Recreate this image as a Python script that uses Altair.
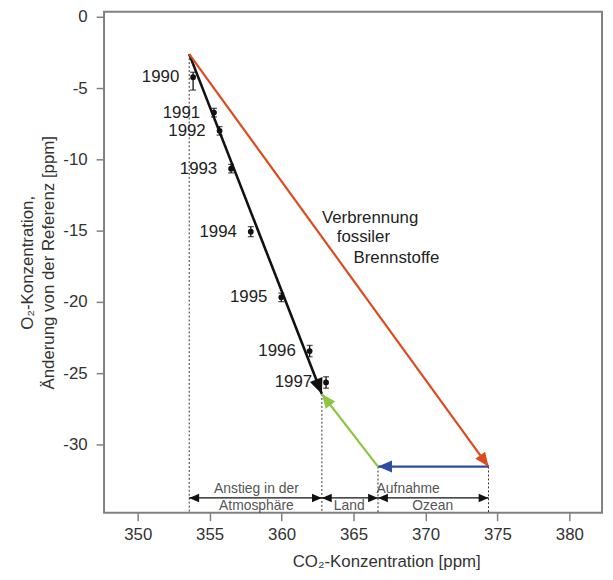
import math
import altair as alt
import pandas as pd

# ---------------- data ----------------
years = ["1990", "1991", "1992", "1993", "1994", "1995", "1996", "1997"]
co2 = [353.85, 355.30, 355.69, 356.49, 357.86, 359.98, 361.95, 363.09]
o2 = [-4.24, -6.72, -8.00, -10.65, -15.07, -19.68, -23.45, -25.65]
err_low = [0.9, 0.3, 0.3, 0.3, 0.35, 0.3, 0.4, 0.4]
err_high = [0.35, 0.3, 0.3, 0.3, 0.35, 0.3, 0.4, 0.4]

# budget vectors (start -> end)
arrow_names = ["Atmosphäre", "Verbrennung", "Ozean", "Land"]
arrow_x1 = [353.58, 353.58, 374.38, 366.70]
arrow_y1 = [-2.62, -2.62, -31.55, -31.55]
arrow_x2 = [362.80, 374.38, 366.70, 362.80]
arrow_y2 = [-26.46, -31.55, -31.55, -26.46]
arrow_colors = ["#111111", "#dd4a1c", "#2b4ea2", "#8dc63f"]

# dotted drop lines
drop_x = [353.58, 362.80, 366.70, 374.38]
drop_y = [-2.62, -26.46, -31.55, -31.55]

# span arrows at the bottom
span_x1 = [353.58, 362.80, 366.70]
span_x2 = [362.80, 366.70, 374.38]
span_y = -33.75
span_texts = ["Anstieg in der", "Atmosphäre", "Land", "Aufnahme", "Ozean"]
span_text_x = [358.25, 358.25, 364.70, 368.80, 370.50]
span_text_y = [-33.10, -34.30, -34.30, -33.10, -34.30]

fossil_texts = ["Verbrennung", "fossiler", "Brennstoffe"]
fossil_text_x = [362.80, 363.83, 365.00]
fossil_text_y = [-14.10, -15.45, -16.90]

x_ticks = [350, 355, 360, 365, 370, 375, 380]
y_ticks = [0, -5, -10, -15, -20, -25, -30]
x_domain = [347.66, 382.27]
y_domain = [-34.79, 0.35]

W, H = 503, 506
FONT = "Liberation Sans"
kx = W / (x_domain[1] - x_domain[0])
ky = H / (y_domain[1] - y_domain[0])


def head_angle(x1, y1, x2, y2):
    dx = (x2 - x1) * kx
    dy = -(y2 - y1) * ky  # screen coordinates, down positive
    return math.degrees(math.atan2(dx, -dy)) % 360


xs = alt.Scale(domain=x_domain, nice=False, zero=False)
ys = alt.Scale(domain=y_domain, nice=False, zero=False)

pts = pd.DataFrame({"year": years, "co2": co2, "o2": o2,
                    "lo": [v - e for v, e in zip(o2, err_low)],
                    "hi": [v + e for v, e in zip(o2, err_high)]})

arrows = pd.DataFrame({"name": arrow_names, "x1": arrow_x1, "y1": arrow_y1,
                       "x2": arrow_x2, "y2": arrow_y2, "color": arrow_colors,
                       "w": [2.6, 2.2, 2.2, 2.2]})
heads = pd.DataFrame({
    "x": arrow_x2, "y": arrow_y2, "color": arrow_colors,
    "size": [1000, 800, 800, 800],
    "angle": [head_angle(a, b, c, d) for a, b, c, d in zip(arrow_x1, arrow_y1, arrow_x2, arrow_y2)],
})

drops = pd.DataFrame({"x": drop_x, "y": drop_y, "y2": [y_domain[0]] * len(drop_x)})

spans = pd.DataFrame({"x1": span_x1, "x2": span_x2, "y": [span_y] * len(span_x1)})
span_heads = pd.DataFrame({
    "x": span_x1 + span_x2,
    "y": [span_y] * (2 * len(span_x1)),
    "angle": [270] * len(span_x1) + [90] * len(span_x2),
})
span_lab = pd.DataFrame({"t": span_texts, "x": span_text_x, "y": span_text_y})
fossil_lab = pd.DataFrame({"t": fossil_texts, "x": fossil_text_x, "y": fossil_text_y})

HEAD = "M0,0 L0.43,1 L-0.43,1 Z"

# base layer carrying axes
base_axes = alt.Chart(drops).mark_rule(strokeDash=[2, 2], color="#333333", strokeWidth=1).encode(
    x=alt.X("x:Q", scale=xs, axis=alt.Axis(
        values=x_ticks, title="CO₂-Konzentration [ppm]",
        titleX=285, titleY=49, titleBaseline="middle", titleAlign="center")),
    y=alt.Y("y:Q", scale=ys, axis=alt.Axis(
        values=y_ticks, title=["O₂-Konzentration,", "Änderung von der Referenz [ppm]"],
        labelExpr="replace(datum.label, '\u2212', '-')",
        titleX=-77, titleY=253, titleAngle=270, titleBaseline="middle", titleAlign="center",
        titleLineHeight=21)),
    y2="y2:Q",
)

arrow_lines = alt.Chart(arrows).mark_rule().encode(
    x="x1:Q", y="y1:Q", x2="x2:Q", y2="y2:Q",
    color=alt.Color("color:N", scale=None),
    strokeWidth=alt.StrokeWidth("w:Q", scale=None),
)
arrow_heads = alt.Chart(heads).mark_point(shape=HEAD, filled=True, opacity=1, strokeWidth=0).encode(
    x="x:Q", y="y:Q",
    angle=alt.Angle("angle:Q", scale=None),
    size=alt.Size("size:Q", scale=None),
    color=alt.Color("color:N", scale=None),
)

span_lines = alt.Chart(spans).mark_rule(color="#111111", strokeWidth=1.3).encode(
    x="x1:Q", x2="x2:Q", y="y:Q",
)
span_head_marks = alt.Chart(span_heads).mark_point(shape=HEAD, filled=True, opacity=1, size=400,
                                                   strokeWidth=0, color="#111111").encode(
    x="x:Q", y="y:Q", angle=alt.Angle("angle:Q", scale=None),
)
span_texts_mark = alt.Chart(span_lab).mark_text(font=FONT, fontSize=14, color="#555555",
                                                 baseline="middle", align="center").encode(
    x="x:Q", y="y:Q", text="t:N",
)
fossil_texts_mark = alt.Chart(fossil_lab).mark_text(font=FONT, fontSize=17, color="#222222",
                                                     baseline="middle", align="left").encode(
    x="x:Q", y="y:Q", text="t:N",
)

err_rules = alt.Chart(pts).mark_rule(color="#111111", strokeWidth=1.3).encode(
    x="co2:Q", y="lo:Q", y2="hi:Q",
)
cap_lo = alt.Chart(pts).mark_point(shape="stroke", size=36, color="#111111", strokeWidth=1.3).encode(
    x="co2:Q", y="lo:Q",
)
cap_hi = alt.Chart(pts).mark_point(shape="stroke", size=36, color="#111111", strokeWidth=1.3).encode(
    x="co2:Q", y="hi:Q",
)
dots = alt.Chart(pts).mark_point(filled=True, size=34, color="#111111", opacity=1).encode(
    x="co2:Q", y="o2:Q",
)
year_labels = alt.Chart(pts).mark_text(font=FONT, fontSize=17, color="#222222", align="right",
                                       baseline="middle", dx=-14).encode(
    x="co2:Q", y="o2:Q", text="year:N",
)

chart = alt.layer(
    base_axes, arrow_lines, arrow_heads, span_lines, span_head_marks, span_texts_mark,
    fossil_texts_mark, err_rules, cap_lo, cap_hi, dots, year_labels,
).properties(
    width=W, height=H,
    autosize=alt.AutoSizeParams(type="none"),
    padding={"left": 97, "top": 1, "right": 3, "bottom": 60},
).configure_view(
    stroke="#808080", strokeWidth=2,
).configure_axis(
    grid=False, domain=False,
    labelFont=FONT, labelFontSize=17, labelColor="#333333",
    titleFont=FONT, titleFontSize=17, titleColor="#333333", titleFontWeight="normal",
    tickColor="#808080", tickWidth=1.5, tickSize=8,
).configure_axisX(labelPadding=6).configure_axisY(labelPadding=9)

chart.save("out.html", embed_options={"renderer": "svg", "actions": False})
